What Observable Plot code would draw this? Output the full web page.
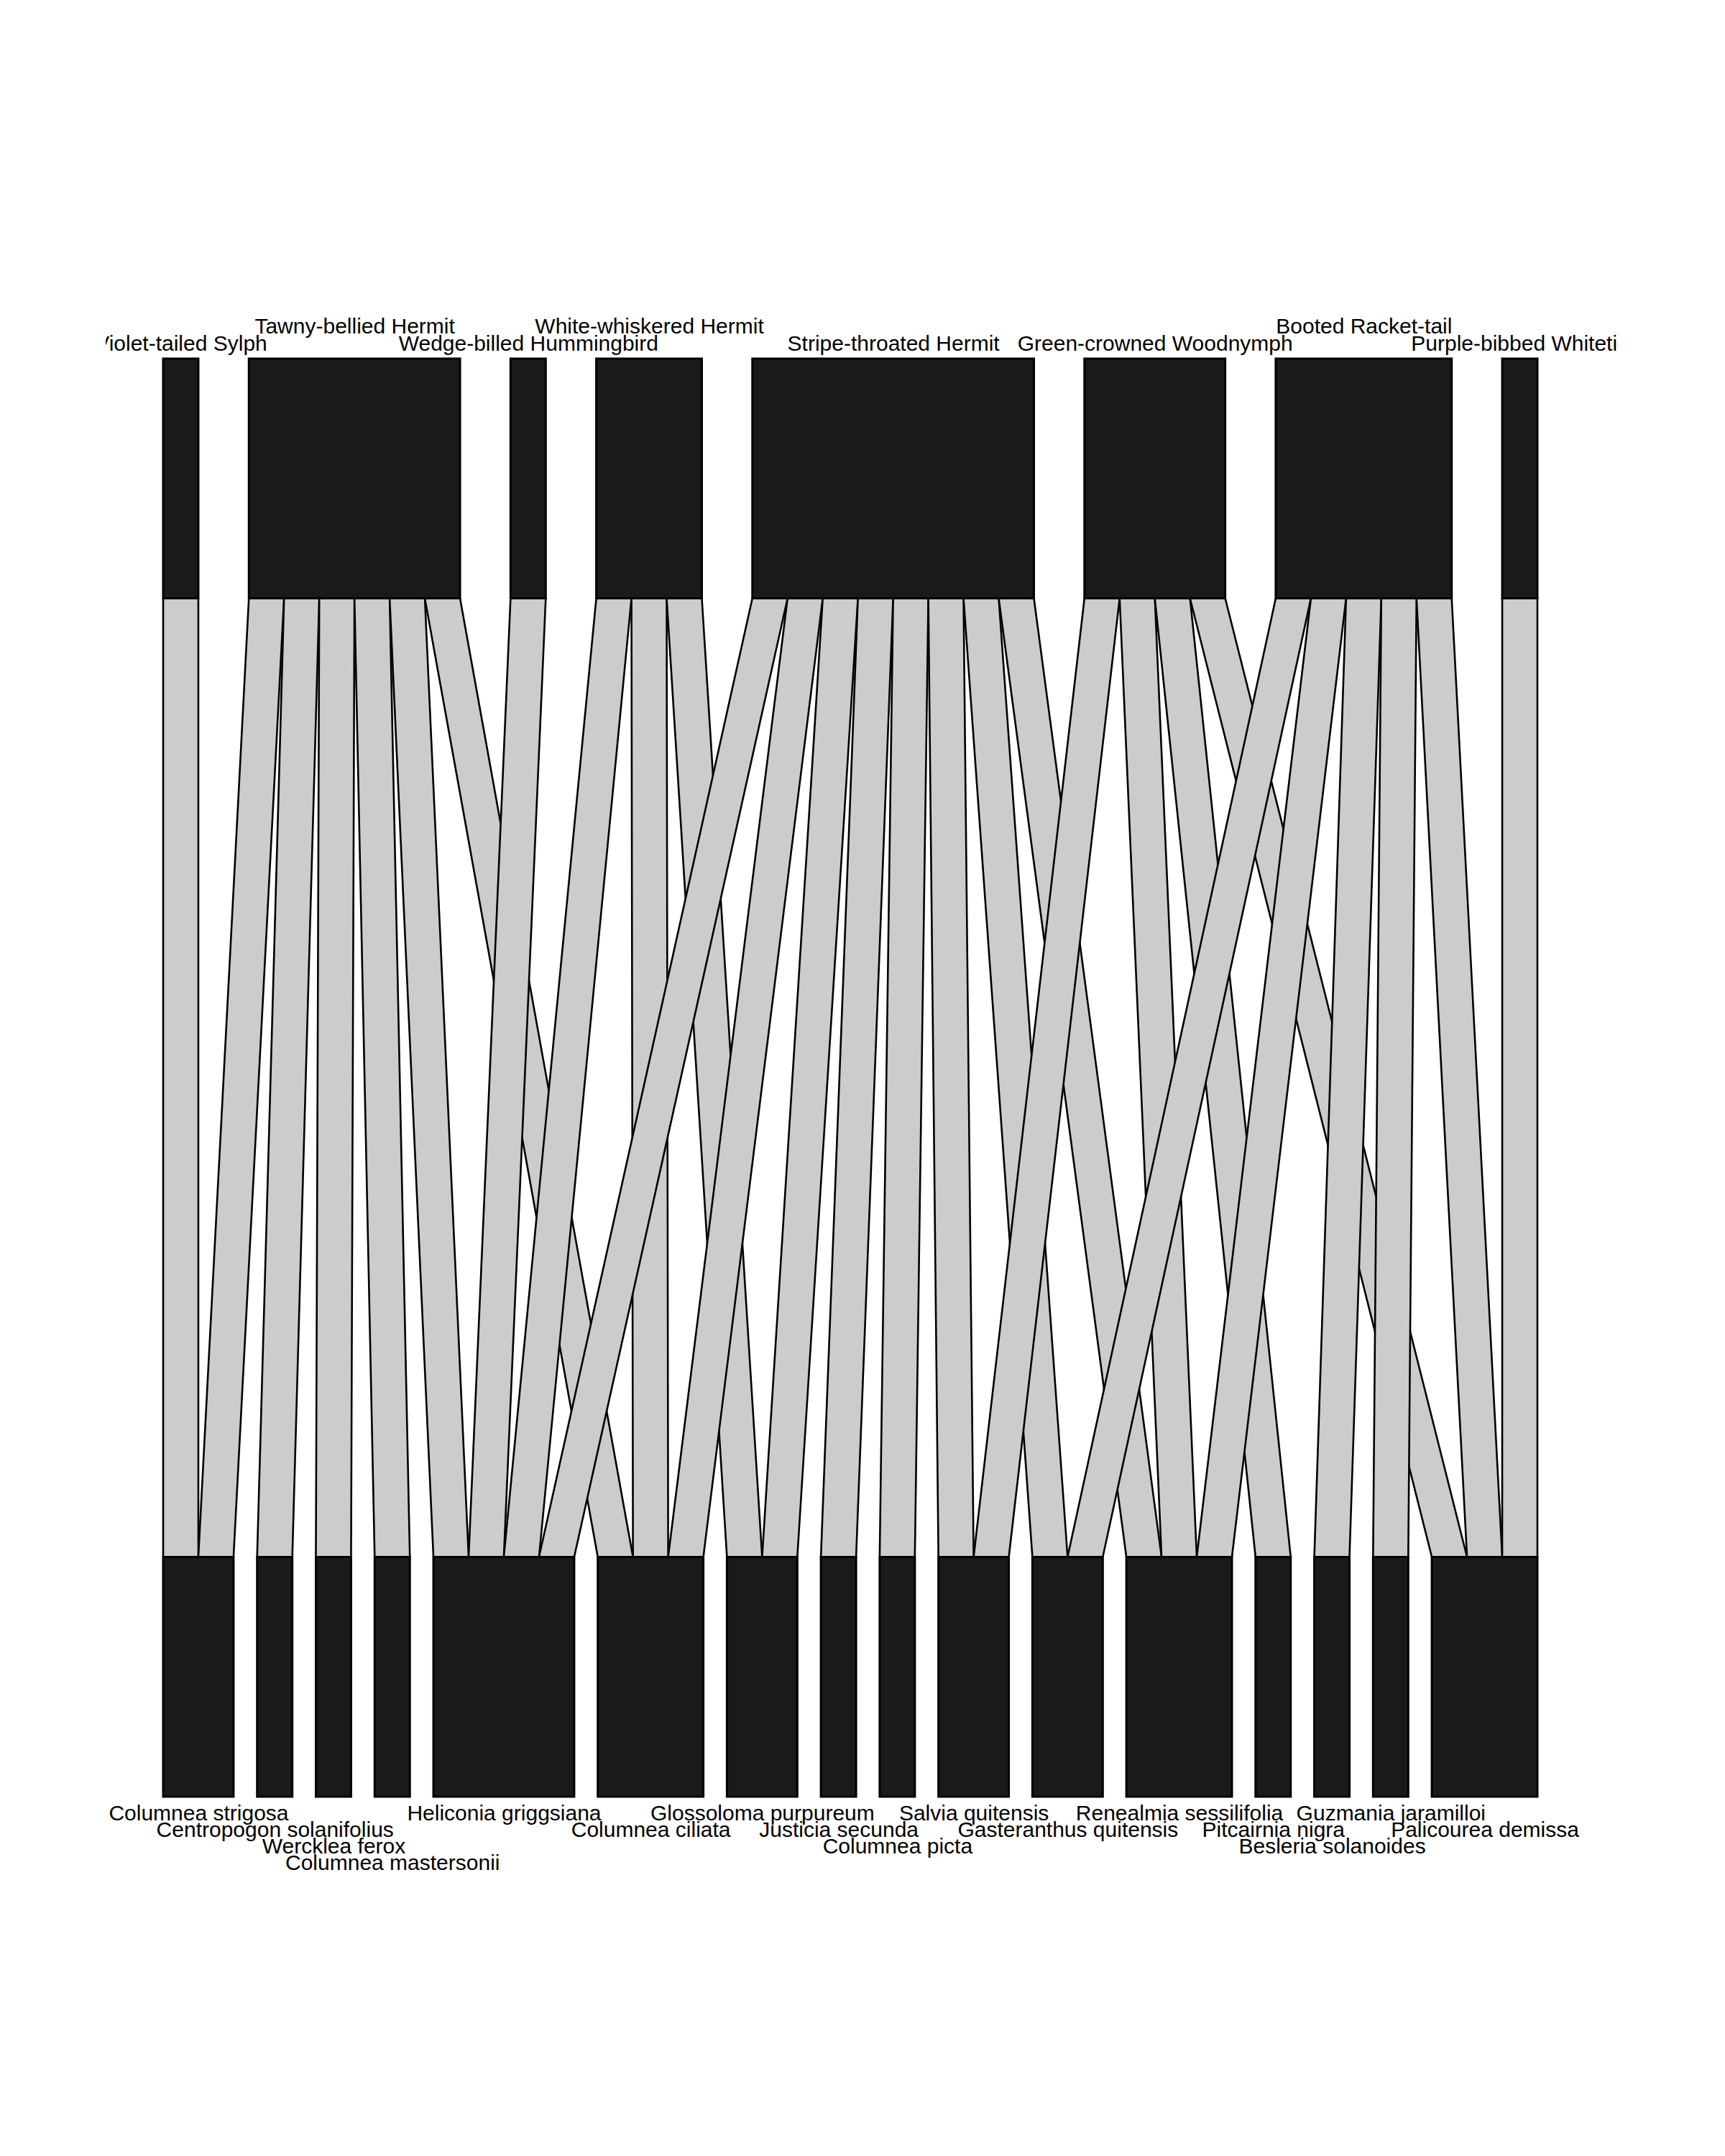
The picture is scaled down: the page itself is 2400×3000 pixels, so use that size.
<!DOCTYPE html>
<html>
<head>
<meta charset="utf-8">
<script src="https://cdn.jsdelivr.net/npm/d3@7"></script>
<script src="https://cdn.jsdelivr.net/npm/@observablehq/plot@0.6"></script>
<style>
  html, body { margin: 0; padding: 0; background: #ffffff; }
  #chart svg { display: block; }
</style>
</head>
<body>
<div id="chart"></div>
<script>
// ---- Data ----
const birds = [
  "Violet-tailed Sylph",
  "Tawny-bellied Hermit",
  "Wedge-billed Hummingbird",
  "White-whiskered Hermit",
  "Stripe-throated Hermit",
  "Green-crowned Woodnymph",
  "Booted Racket-tail",
  "Purple-bibbed Whitetip"
];

const plants = [
  "Columnea strigosa",
  "Centropogon solanifolius",
  "Wercklea ferox",
  "Columnea mastersonii",
  "Heliconia griggsiana",
  "Columnea ciliata",
  "Glossoloma purpureum",
  "Justicia secunda",
  "Columnea picta",
  "Salvia quitensis",
  "Gasteranthus quitensis",
  "Renealmia sessilifolia",
  "Pitcairnia nigra",
  "Besleria solanoides",
  "Guzmania jaramilloi",
  "Palicourea demissa"
];

// interactions (bird -> plant), each of weight 1
const linkBird = [
  "Violet-tailed Sylph",
  "Tawny-bellied Hermit", "Tawny-bellied Hermit", "Tawny-bellied Hermit",
  "Tawny-bellied Hermit", "Tawny-bellied Hermit", "Tawny-bellied Hermit",
  "Wedge-billed Hummingbird",
  "White-whiskered Hermit", "White-whiskered Hermit", "White-whiskered Hermit",
  "Stripe-throated Hermit", "Stripe-throated Hermit", "Stripe-throated Hermit", "Stripe-throated Hermit",
  "Stripe-throated Hermit", "Stripe-throated Hermit", "Stripe-throated Hermit", "Stripe-throated Hermit",
  "Green-crowned Woodnymph", "Green-crowned Woodnymph", "Green-crowned Woodnymph", "Green-crowned Woodnymph",
  "Booted Racket-tail", "Booted Racket-tail", "Booted Racket-tail", "Booted Racket-tail", "Booted Racket-tail",
  "Purple-bibbed Whitetip"
];
const linkPlant = [
  "Columnea strigosa",
  "Columnea strigosa", "Centropogon solanifolius", "Wercklea ferox",
  "Columnea mastersonii", "Heliconia griggsiana", "Columnea ciliata",
  "Heliconia griggsiana",
  "Heliconia griggsiana", "Columnea ciliata", "Glossoloma purpureum",
  "Heliconia griggsiana", "Columnea ciliata", "Glossoloma purpureum", "Justicia secunda",
  "Columnea picta", "Salvia quitensis", "Gasteranthus quitensis", "Renealmia sessilifolia",
  "Salvia quitensis", "Renealmia sessilifolia", "Pitcairnia nigra", "Palicourea demissa",
  "Gasteranthus quitensis", "Renealmia sessilifolia", "Besleria solanoides", "Guzmania jaramilloi", "Palicourea demissa",
  "Palicourea demissa"
];
const linkWeight = linkBird.map(() => 1);

// ---- Layout (bipartite web: boxes proportional to number of interactions) ----
const FS = 30;
const FONT = '"Liberation Sans", Arial, Helvetica, sans-serif';
const LOW_GAP = 0.67;               // gap between lower boxes, in link units
const links = linkBird.map((b, i) => ({
  b: birds.indexOf(b), p: plants.indexOf(linkPlant[i]), w: linkWeight[i], id: i
}));
const total = d3.sum(links, d => d.w);
const SPAN = total + LOW_GAP * (plants.length - 1);
const HIGH_GAP = (SPAN - total) / (birds.length - 1);

const birdTot = birds.map((_, i) => d3.sum(links.filter(l => l.b === i), l => l.w));
const plantTot = plants.map((_, i) => d3.sum(links.filter(l => l.p === i), l => l.w));
const birdStart = [], plantStart = [];
birds.forEach((_, i) => birdStart.push(i === 0 ? 0 : birdStart[i - 1] + birdTot[i - 1] + HIGH_GAP));
plants.forEach((_, i) => plantStart.push(i === 0 ? 0 : plantStart[i - 1] + plantTot[i - 1] + LOW_GAP));

// segment offsets: within bird ordered by plant, within plant ordered by bird
const birdOff = birds.map(() => 0), plantOff = plants.map(() => 0);
const byPlant = links.slice().sort((a, b) => a.b - b.b || a.p - b.p);
for (const l of byPlant) { l.tx = birdStart[l.b] + birdOff[l.b]; birdOff[l.b] += l.w; }
const byBird = links.slice().sort((a, b) => a.p - b.p || a.b - b.b);
for (const l of byBird) { l.bx = plantStart[l.p] + plantOff[l.p]; plantOff[l.p] += l.w; }

// vertical levels: lower boxes [0,1], links [1,5], upper boxes [5,6]
const linkPts = links.flatMap(l => [
  {id: l.id, y: 1, x1: l.bx, x2: l.bx + l.w},
  {id: l.id, y: 5, x1: l.tx, x2: l.tx + l.w}
]);
const birdBoxes = birds.map((name, i) => ({name, x1: birdStart[i], x2: birdStart[i] + birdTot[i], y1: 5, y2: 6}));
const plantBoxes = plants.map((name, i) => ({name, x1: plantStart[i], x2: plantStart[i] + plantTot[i], y1: 0, y2: 1}));

const W = 2400, H = 3000;
const XR = [227, 2139];
const xpx = d3.scaleLinear([0, SPAN], XR);

// label rows: greedy placement to avoid overlaps (as in plotweb)
const ctx = document.createElement("canvas").getContext("2d");
ctx.font = `${FS}px ${FONT}`;
function assignRows(boxes) {
  const ends = [];
  return boxes.map(bx => {
    const cx = xpx((bx.x1 + bx.x2) / 2);
    const w = ctx.measureText(bx.name).width;
    const l = cx - w / 2;
    let row = 0;
    while (ends[row] !== undefined && l < ends[row] + 6) row++;
    ends[row] = cx + w / 2;
    return {...bx, cx: (bx.x1 + bx.x2) / 2, row};
  });
}
const birdLabels = assignRows(birdBoxes);
const plantLabels = assignRows(plantBoxes);

const textOpts = {
  text: "name", fontSize: FS, fontFamily: FONT, fill: "black",
  lineAnchor: "bottom", textAnchor: "middle", clip: "frame"
};
const topRowDy = [-12, -36];
const botRowDy = [32, 55, 78, 101];

const marks = [
  Plot.areaX(linkPts, {y: "y", x1: "x1", x2: "x2", z: "id", fill: "#cccccc", stroke: "black", strokeWidth: 2.6, curve: "linear"}),
  Plot.rect(birdBoxes, {x1: "x1", x2: "x2", y1: "y1", y2: "y2", fill: "#1a1a1a", stroke: "black", strokeWidth: 3}),
  Plot.rect(plantBoxes, {x1: "x1", x2: "x2", y1: "y1", y2: "y2", fill: "#1a1a1a", stroke: "black", strokeWidth: 3}),
  ...topRowDy.map((dy, r) => Plot.text(birdLabels.filter(d => d.row === r), {...textOpts, x: "cx", y: "y2", dy})),
  ...botRowDy.map((dy, r) => Plot.text(plantLabels.filter(d => d.row === r), {...textOpts, x: "cx", y: "y1", dy}))
];

const chart = Plot.plot({
  width: W,
  height: H,
  marginLeft: 147,
  marginRight: 150,
  marginTop: 0,
  marginBottom: 0,
  x: {domain: [0, SPAN], range: XR, axis: null},
  y: {domain: [0, 6], range: [2500, 499], axis: null},
  style: {background: "#ffffff", fontFamily: FONT},
  marks
});
document.getElementById("chart").append(chart);
</script>
</body>
</html>
